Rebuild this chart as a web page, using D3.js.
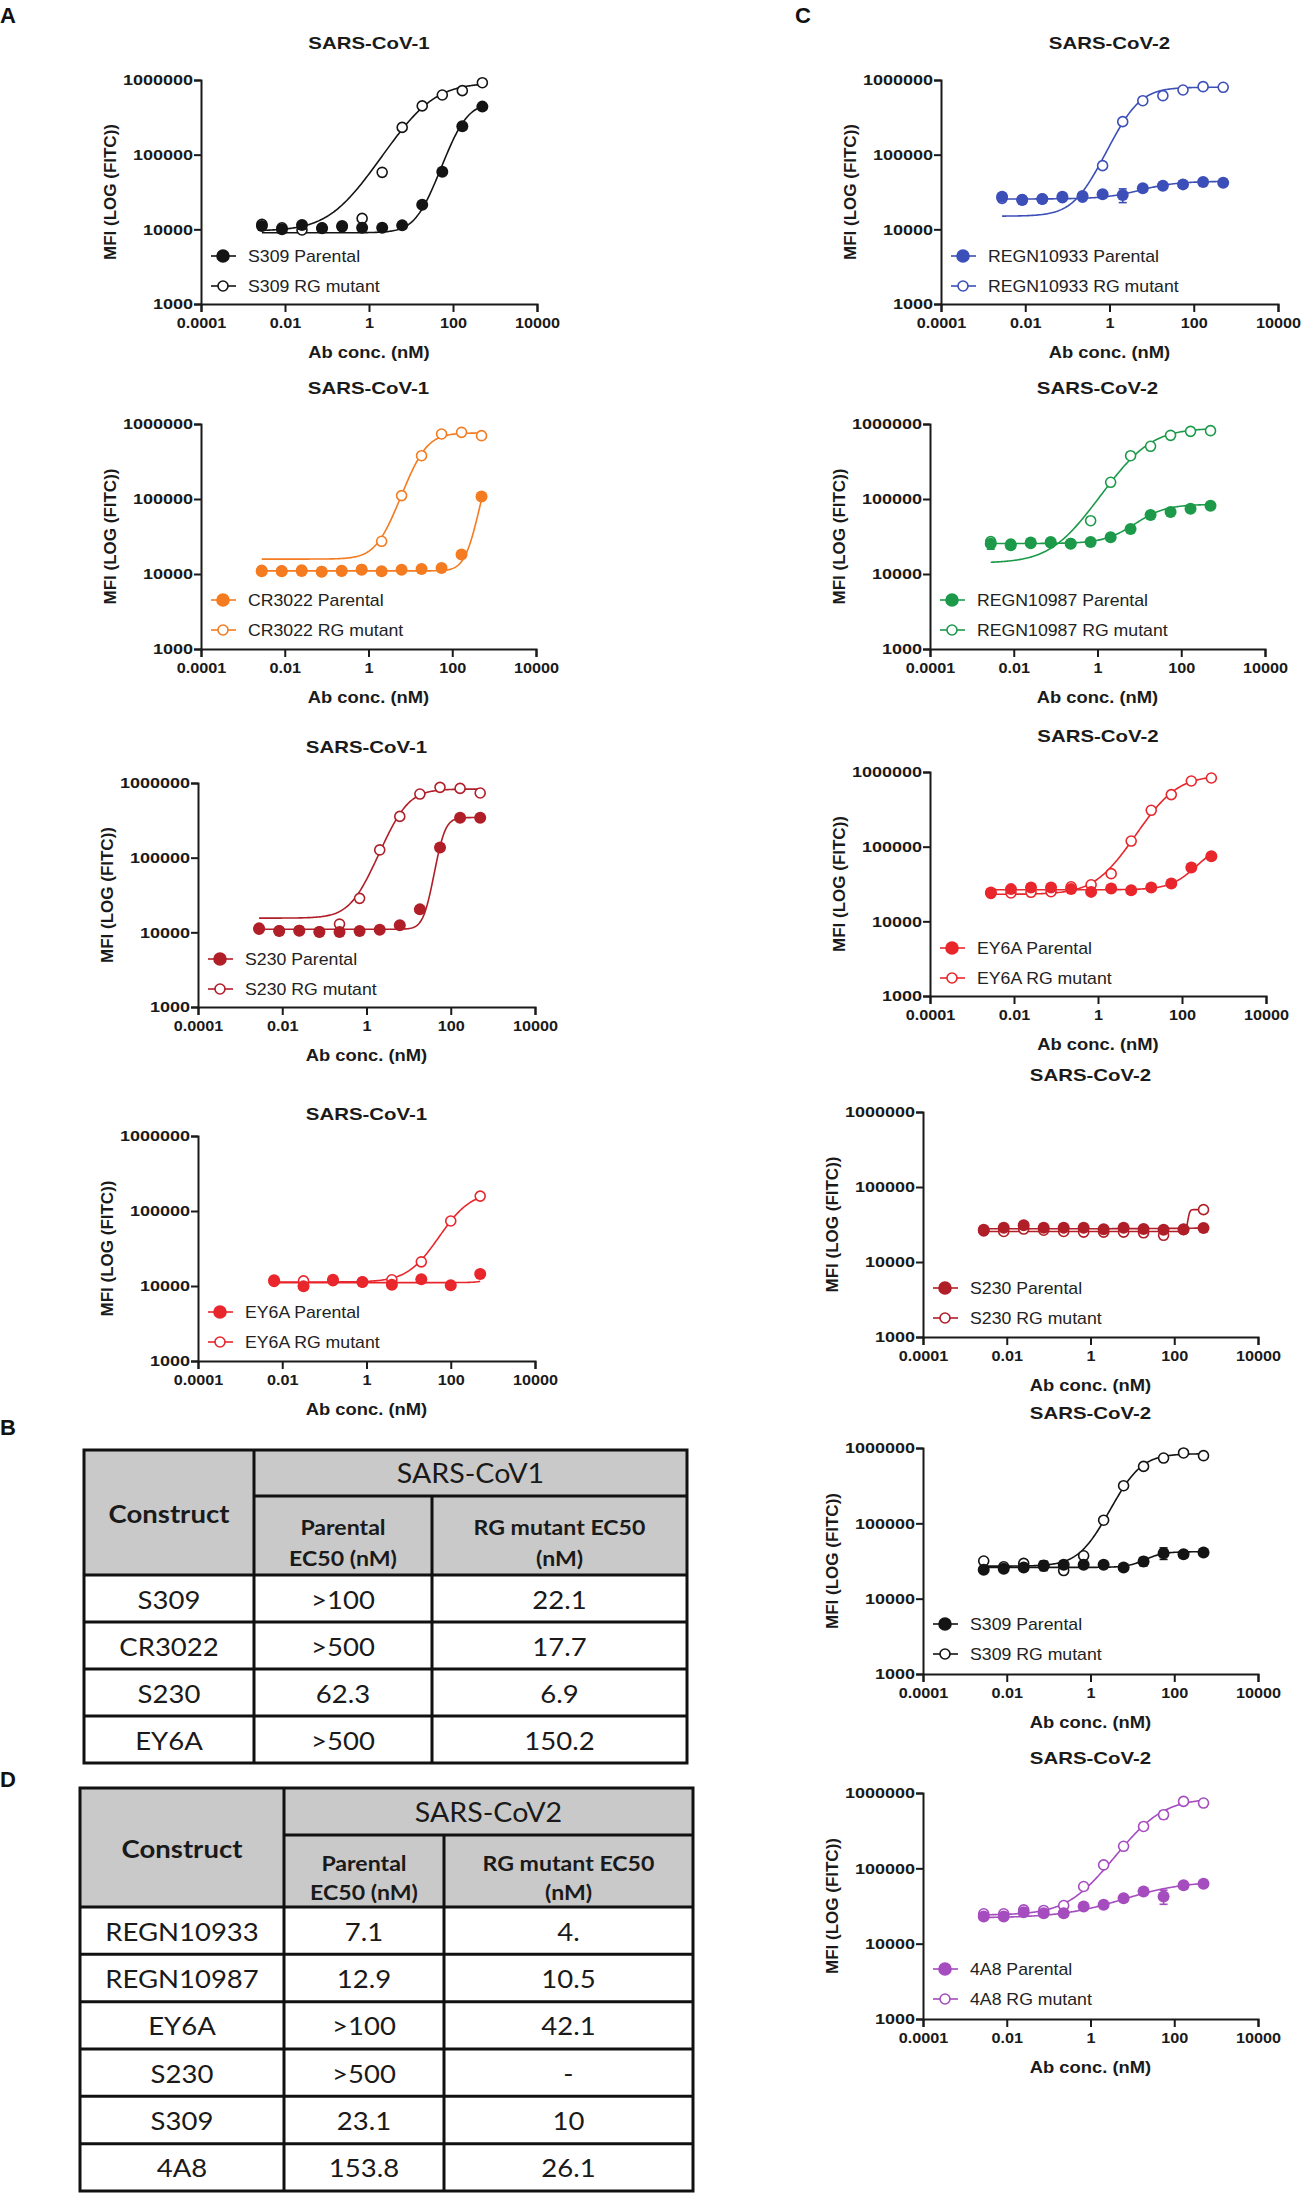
<!DOCTYPE html>
<html>
<head>
<meta charset="utf-8">
<script src="https://cdn.jsdelivr.net/npm/d3@7"></script>
<style>
  body { margin: 0; background: #fff; }
  svg { display: block; }
</style>
</head>
<body>
<div id="chart"></div>
<script>
// ---------------- data ----------------
// antibody concentrations (nM), 3-fold and 5-fold dilution series
var conc3 = [0.00282, 0.00847, 0.0254, 0.0762, 0.229, 0.686, 2.06, 6.17, 18.5, 55.6, 166.7, 500];
var conc5 = [0.0064, 0.032, 0.16, 0.8, 4, 20, 100, 500];

var xTickValues = [1e-4, 1e-2, 1, 100, 1e4];
var xTickLabels = ['0.0001', '0.01', '1', '100', '10000'];
var yTickValues = [1e3, 1e4, 1e5, 1e6];
var yTickLabels = ['1000', '10000', '100000', '1000000'];

// MFI values; fits are [bottom, top, EC50, hill]
var s309v1Par = [11100, 10000, 11400, 10300, 11100, 10500, 10500, 11300, 21300, 59000, 241000, 440000];
var s309v1Rg = [11700, 10500, 9800, 10500, 10800, 14000, 58000, 232000, 450000, 630000, 720000, 920000];
var s309v1ParFit = [9000, 500000, 160, 1.8];
var s309v1RgFit = [9500, 920000, 22.1, 0.95];

var cr3022v1Par = [10900, 10900, 11000, 10700, 11000, 11400, 10900, 11400, 11700, 12000, 18200, 108000];
var cr3022v1Rg = [11200, 11000, 11300, 10800, 11100, 11500, 27300, 111000, 378000, 736000, 774000, 699000];
var cr3022v1ParFit = [11000, 800000, 1000, 3];
var cr3022v1RgFit = [15800, 760000, 17.7, 1.8];

var s230v1Par = [11300, 10400, 10500, 10100, 10100, 10400, 10800, 12400, 20300, 137000, 342000, 342000];
var s230v1Rg = [11000, 10500, 10600, 10200, 12900, 28500, 127000, 357000, 711000, 874000, 847000, 735000];
var s230v1ParFit = [11000, 345000, 62.3, 4];
var s230v1RgFit = [15500, 830000, 6.9, 1.6];

var ey6aV1Par = [11900, 9900, 12100, 11300, 10400, 12300, 10200, 14500];
var ey6aV1Rg = [11500, 11700, 11800, 11300, 12100, 21000, 73600, 158000];
var ey6aV1ParFit = [11100, 15000, 1000, 3];
var ey6aV1RgFit = [11300, 180000, 150.2, 1.32];

var regn10933Par = [27400, 24700, 25500, 27400, 27900, 29400, 28800, 35400, 38400, 40000, 43000, 42200];
var regn10933Rg = [26000, 25000, 25500, 26500, 27000, 71300, 277000, 528000, 617000, 735000, 814000, 798000];
var regn10933ParErr = [0, 0, 0, 0, 0, 0, 6000, 0, 0, 0, 0, 0];
var regn10933ParFit = [25500, 44000, 7.1, 1];
var regn10933RgFit = [15000, 800000, 3.5, 1.4];

var regn10987Par = [25400, 24100, 26400, 26700, 25400, 26700, 30800, 39800, 61200, 67100, 74300, 81500];
var regn10987Rg = [27000, 25000, 25500, 26000, 25500, 51400, 167000, 378000, 504000, 706000, 798000, 815000];
var regn10987ParErr = [4000, 0, 0, 0, 0, 0, 0, 0, 3000, 0, 0, 0];
var regn10987ParFit = [25500, 85000, 12.9, 1.2];
var regn10987RgFit = [14000, 880000, 10.5, 0.95];

var ey6aV2Par = [24300, 27000, 28400, 28400, 27000, 24800, 27500, 26100, 28400, 32000, 52500, 74400];
var ey6aV2Rg = [23700, 24000, 24500, 24900, 29000, 30900, 43500, 119000, 307000, 498000, 758000, 831000];
var ey6aV2ParFit = [26500, 120000, 400, 1.4];
var ey6aV2RgFit = [23000, 900000, 42.1, 1.1];

var s230v2Par = [27000, 28700, 30800, 28700, 28700, 28700, 27300, 28700, 27500, 27000, 27300, 28400];
var s230v2Rg = [26000, 25500, 27500, 26500, 25500, 25000, 25000, 25000, 24500, 22700, 27000, 49900];
var s230v2ParFit = [27800, 28400, 100, 1];
var s230v2RgFit = [25500, 50000, 215, 20];

var s309v2Par = [24200, 24900, 26000, 27600, 28100, 28100, 28100, 26000, 31200, 40200, 38900, 41000];
var s309v2Rg = [31600, 26500, 29400, 27000, 23600, 37100, 110000, 316000, 570000, 736000, 859000, 791000];
var s309v2ParErr = [0, 0, 0, 4000, 0, 0, 0, 0, 4000, 7000, 0, 0];
var s309v2ParFit = [26000, 42000, 23.1, 2];
var s309v2RgFit = [27000, 840000, 10, 1.4];

var a48Par = [23000, 23000, 26200, 25400, 25400, 31200, 32800, 40200, 49300, 42300, 59800, 62300];
var a48Rg = [24900, 24900, 28100, 27600, 32100, 57400, 111000, 196000, 360000, 515000, 774000, 736000];
var a48ParErr = [0, 0, 0, 0, 0, 0, 0, 0, 0, 9000, 0, 0];
var a48RgErr = [0, 0, 0, 0, 0, 0, 0, 0, 0, 60000, 0, 0];
var a48ParFit = [22000, 68000, 15, 0.6];
var a48RgFit = [24000, 850000, 26.1, 0.93];

// EC50 tables
var tableBRows = ['S309', 'CR3022', 'S230', 'EY6A'];
var tableBParental = ['>100', '>500', '62.3', '>500'];
var tableBMutant = ['22.1', '17.7', '6.9', '150.2'];
var tableDRows = ['REGN10933', 'REGN10987', 'EY6A', 'S230', 'S309', '4A8'];
var tableDParental = ['7.1', '12.9', '>100', '>500', '23.1', '153.8'];
var tableDMutant = ['4.', '10.5', '42.1', '-', '10', '26.1'];

// ---------------- layout ----------------
var width = 1307, height = 2203;
var FONT = "'Liberation Sans', Arial, sans-serif";
var TFONT = "Lato, 'Open Sans', sans-serif";

var svg = d3.select('#chart')
  .append('svg')
  .attr('width', width)
  .attr('height', height);

// text in the figure is a bit wider than the font; stretch it
function stretch(sel, k) {
  sel.each(function() {
    var w = this.getComputedTextLength();
    d3.select(this).attr('textLength', w * k).attr('lengthAdjust', 'spacingAndGlyphs');
  });
}

var charts = [
  { title: 'SARS-CoV-1', x0: 201, x1: 537, y0: 80, y1: 304, tgap: 31, color: '#141414', conc: conc3,
    names: ['S309 Parental', 'S309 RG mutant'], par: s309v1Par, rg: s309v1Rg, parFit: s309v1ParFit, rgFit: s309v1RgFit },
  { title: 'SARS-CoV-1', x0: 201, x1: 536, y0: 424, y1: 649, tgap: 30, color: '#f47b20', conc: conc3,
    names: ['CR3022 Parental', 'CR3022 RG mutant'], par: cr3022v1Par, rg: cr3022v1Rg, parFit: cr3022v1ParFit, rgFit: cr3022v1RgFit },
  { title: 'SARS-CoV-1', x0: 198, x1: 535, y0: 783, y1: 1007, tgap: 30, color: '#b01e28', conc: conc3,
    names: ['S230 Parental', 'S230 RG mutant'], par: s230v1Par, rg: s230v1Rg, parFit: s230v1ParFit, rgFit: s230v1RgFit },
  { title: 'SARS-CoV-1', x0: 198, x1: 535, y0: 1136, y1: 1361, tgap: 16, color: '#e8262c', conc: conc5,
    names: ['EY6A Parental', 'EY6A RG mutant'], par: ey6aV1Par, rg: ey6aV1Rg, parFit: ey6aV1ParFit, rgFit: ey6aV1RgFit },
  { title: 'SARS-CoV-2', x0: 941, x1: 1278, y0: 80, y1: 304, tgap: 31, color: '#3c4fb8', conc: conc3,
    names: ['REGN10933 Parental', 'REGN10933 RG mutant'], par: regn10933Par, rg: regn10933Rg, parErr: regn10933ParErr,
    parFit: regn10933ParFit, rgFit: regn10933RgFit },
  { title: 'SARS-CoV-2', x0: 930, x1: 1265, y0: 424, y1: 649, tgap: 30, color: '#1c9a4a', conc: conc3,
    names: ['REGN10987 Parental', 'REGN10987 RG mutant'], par: regn10987Par, rg: regn10987Rg, parErr: regn10987ParErr,
    parFit: regn10987ParFit, rgFit: regn10987RgFit },
  { title: 'SARS-CoV-2', x0: 930, x1: 1266, y0: 772, y1: 996, tgap: 30, color: '#e8262c', conc: conc3,
    names: ['EY6A Parental', 'EY6A RG mutant'], par: ey6aV2Par, rg: ey6aV2Rg, parFit: ey6aV2ParFit, rgFit: ey6aV2RgFit },
  { title: 'SARS-CoV-2', x0: 923, x1: 1258, y0: 1112, y1: 1337, tgap: 31, color: '#b01e28', conc: conc3,
    names: ['S230 Parental', 'S230 RG mutant'], par: s230v2Par, rg: s230v2Rg, parFit: s230v2ParFit, rgFit: s230v2RgFit },
  { title: 'SARS-CoV-2', x0: 923, x1: 1258, y0: 1448, y1: 1674, tgap: 29, color: '#141414', conc: conc3,
    names: ['S309 Parental', 'S309 RG mutant'], par: s309v2Par, rg: s309v2Rg, parErr: s309v2ParErr,
    parFit: s309v2ParFit, rgFit: s309v2RgFit },
  { title: 'SARS-CoV-2', x0: 923, x1: 1258, y0: 1793, y1: 2019, tgap: 29, color: '#a54cbf', conc: conc3,
    names: ['4A8 Parental', '4A8 RG mutant'], par: a48Par, rg: a48Rg, parErr: a48ParErr, rgErr: a48RgErr,
    parFit: a48ParFit, rgFit: a48RgFit }
];

// four parameter logistic
function logistic(p, x) {
  return p[0] + (p[1] - p[0]) / (1 + Math.pow(p[2] / x, p[3]));
}

function drawChart(c) {
  var g = svg.append('g');
  var x_scale = d3.scaleLog().domain([1e-4, 1e4]).range([c.x0, c.x1]);
  var y_scale = d3.scaleLog().domain([1e3, 1e6]).range([c.y1, c.y0]);

  // axes
  var xAxis = g.append('g')
    .attr('transform', 'translate(0,' + c.y1 + ')')
    .call(d3.axisBottom(x_scale).tickValues(xTickValues)
      .tickFormat(function(d, i) { return xTickLabels[i]; })
      .tickSizeOuter(0).tickSize(8).tickPadding(5));
  var yAxis = g.append('g')
    .attr('transform', 'translate(' + c.x0 + ',0)')
    .call(d3.axisLeft(y_scale).tickValues(yTickValues)
      .tickFormat(function(d, i) { return yTickLabels[i]; })
      .tickSizeOuter(0).tickSize(7).tickPadding(1));
  g.selectAll('.domain, .tick line').attr('stroke', '#1a1a1a').attr('stroke-width', 2);
  g.selectAll('.tick text')
    .attr('font-family', FONT).attr('font-weight', 'bold')
    .attr('font-size', 15).attr('fill', '#1a1a1a');
  stretch(xAxis.selectAll('.tick text'), 1.08);
  stretch(yAxis.selectAll('.tick text'), 1.2);

  // titles
  var cx = (c.x0 + c.x1) / 2;
  var t = g.append('text')
    .attr('x', cx).attr('y', c.y0 - c.tgap)
    .attr('text-anchor', 'middle')
    .attr('font-family', FONT).attr('font-weight', 'bold').attr('font-size', 17)
    .attr('fill', '#1a1a1a')
    .text(c.title);
  stretch(t, 1.2);
  var xt = g.append('text')
    .attr('x', cx).attr('y', c.y1 + 54)
    .attr('text-anchor', 'middle')
    .attr('font-family', FONT).attr('font-weight', 'bold').attr('font-size', 17)
    .attr('fill', '#1a1a1a')
    .text('Ab conc. (nM)');
  stretch(xt, 1.08);
  g.append('text')
    .attr('transform', 'translate(' + (c.x0 - 85) + ',' + ((c.y0 + c.y1) / 2) + ') rotate(-90)')
    .attr('text-anchor', 'middle')
    .attr('font-family', FONT).attr('font-weight', 'bold').attr('font-size', 17)
    .attr('fill', '#1a1a1a')
    .text('MFI (LOG (FITC))');

  // fitted curves
  var lo = Math.log10(c.conc[0]), hi = Math.log10(c.conc[c.conc.length - 1]);
  var xs = d3.range(0, 201).map(function(i) { return Math.pow(10, lo + (hi - lo) * i / 200); });
  var line = d3.line()
    .x(function(d) { return x_scale(d[0]); })
    .y(function(d) { return y_scale(d[1]); });
  [c.rgFit, c.parFit].forEach(function(p) {
    g.append('path')
      .datum(xs.map(function(x) { return [x, logistic(p, x)]; }))
      .attr('d', line)
      .attr('fill', 'none')
      .attr('stroke', c.color)
      .attr('stroke-width', 1.6);
  });

  // error bars
  function errBars(vals, errs) {
    if (!errs) return;
    var eb = g.append('g').attr('stroke', c.color).attr('stroke-width', 1.6);
    vals.forEach(function(v, i) {
      if (!errs[i]) return;
      var xx = x_scale(c.conc[i]);
      var ya = y_scale(v + errs[i]), yb = y_scale(Math.max(v - errs[i], 1001));
      eb.append('line').attr('x1', xx).attr('x2', xx).attr('y1', ya).attr('y2', yb);
      eb.append('line').attr('x1', xx - 4).attr('x2', xx + 4).attr('y1', ya).attr('y2', ya);
      eb.append('line').attr('x1', xx - 4).attr('x2', xx + 4).attr('y1', yb).attr('y2', yb);
    });
  }
  errBars(c.rg, c.rgErr);
  errBars(c.par, c.parErr);

  // points: mutant (open) under parental (filled)
  g.selectAll('circle.rg')
    .data(c.rg)
    .enter()
    .append('circle')
    .attr('class', 'rg')
    .attr('cx', function(d, i) { return x_scale(c.conc[i]); })
    .attr('cy', function(d) { return y_scale(d); })
    .attr('r', 5)
    .attr('fill', '#fff')
    .attr('stroke', c.color)
    .attr('stroke-width', 1.6);
  g.selectAll('circle.par')
    .data(c.par)
    .enter()
    .append('circle')
    .attr('class', 'par')
    .attr('cx', function(d, i) { return x_scale(c.conc[i]); })
    .attr('cy', function(d) { return y_scale(d); })
    .attr('r', 6)
    .attr('fill', c.color);

  // legend
  c.names.forEach(function(name, i) {
    var ly = c.y0 + 176 + i * 30;
    var lg = g.append('g');
    lg.append('line')
      .attr('x1', c.x0 + 10).attr('x2', c.x0 + 35)
      .attr('y1', ly).attr('y2', ly)
      .attr('stroke', c.color).attr('stroke-width', 1.6);
    lg.append('circle')
      .attr('cx', c.x0 + 22).attr('cy', ly)
      .attr('r', i === 0 ? 6 : 5)
      .attr('fill', i === 0 ? c.color : '#fff')
      .attr('stroke', c.color).attr('stroke-width', 1.6);
    var lt = lg.append('text')
      .attr('x', c.x0 + 47).attr('y', ly + 6)
      .attr('font-family', FONT).attr('font-size', 17)
      .attr('fill', '#222')
      .text(name);
    stretch(lt, 1.04);
  });
}

charts.forEach(drawChart);

// ---------------- tables ----------------
var tables = [
  { virus: 'SARS-CoV1', rows: tableBRows, parental: tableBParental, mutant: tableBMutant,
    left: 84, c1: 254, c2: 432, right: 687, top: 1450, split: 1496, headBottom: 1575, bottom: 1763 },
  { virus: 'SARS-CoV2', rows: tableDRows, parental: tableDParental, mutant: tableDMutant,
    left: 80, c1: 284, c2: 444, right: 693, top: 1788, split: 1835, headBottom: 1907, bottom: 2191 }
];

function drawTable(t) {
  var g = svg.append('g');
  var row_scale = d3.scaleBand().domain(t.rows).range([t.headBottom, t.bottom]);

  g.append('rect')
    .attr('x', t.left).attr('y', t.top)
    .attr('width', t.right - t.left).attr('height', t.headBottom - t.top)
    .attr('fill', '#c9c9c9');

  var lines = g.append('g').attr('stroke', '#111').attr('stroke-width', 3);
  lines.append('rect')
    .attr('x', t.left).attr('y', t.top)
    .attr('width', t.right - t.left).attr('height', t.bottom - t.top)
    .attr('fill', 'none');
  lines.append('line').attr('x1', t.c1).attr('x2', t.right).attr('y1', t.split).attr('y2', t.split);
  lines.append('line').attr('x1', t.c1).attr('x2', t.c1).attr('y1', t.top).attr('y2', t.bottom);
  lines.append('line').attr('x1', t.c2).attr('x2', t.c2).attr('y1', t.split).attr('y2', t.bottom);
  lines.selectAll('line.row')
    .data(t.rows)
    .enter()
    .append('line')
    .attr('class', 'row')
    .attr('x1', t.left).attr('x2', t.right)
    .attr('y1', function(d) { return row_scale(d); })
    .attr('y2', function(d) { return row_scale(d); });

  function txt(x, y, s, size, bold) {
    var e = g.append('text')
      .attr('x', x).attr('y', y)
      .attr('text-anchor', 'middle')
      .attr('dominant-baseline', 'central')
      .attr('font-family', TFONT)
      .attr('font-size', size)
      .attr('font-weight', bold ? 'bold' : 'normal')
      .attr('fill', '#1a1a1a')
      .text(s);
    stretch(e, 1.1);
  }

  var subH = t.headBottom - t.split;
  txt((t.left + t.c1) / 2, (t.top + t.headBottom) / 2, 'Construct', 25, true);
  txt((t.c1 + t.right) / 2, (t.top + t.split) / 2, t.virus, 26, false);
  txt((t.c1 + t.c2) / 2, t.split + subH * 0.38, 'Parental', 21, true);
  txt((t.c1 + t.c2) / 2, t.split + subH * 0.78, 'EC50 (nM)', 21, true);
  txt((t.c2 + t.right) / 2, t.split + subH * 0.38, 'RG mutant EC50', 21, true);
  txt((t.c2 + t.right) / 2, t.split + subH * 0.78, '(nM)', 21, true);

  var bw = row_scale.bandwidth();
  t.rows.forEach(function(r, i) {
    var yy = row_scale(r) + bw / 2;
    txt((t.left + t.c1) / 2, yy, r, 25, false);
    txt((t.c1 + t.c2) / 2, yy, t.parental[i], 25, false);
    txt((t.c2 + t.right) / 2, yy, t.mutant[i], 25, false);
  });
}

tables.forEach(drawTable);

// panel letters
var panels = [['A', 0, 23], ['C', 795, 23], ['B', 0, 1435], ['D', 0, 1787]];
svg.selectAll('text.panel')
  .data(panels)
  .enter()
  .append('text')
  .attr('class', 'panel')
  .attr('x', function(d) { return d[1]; })
  .attr('y', function(d) { return d[2]; })
  .attr('font-family', FONT).attr('font-weight', 'bold').attr('font-size', 22)
  .attr('fill', '#111')
  .text(function(d) { return d[0]; });
</script>
</body>
</html>
